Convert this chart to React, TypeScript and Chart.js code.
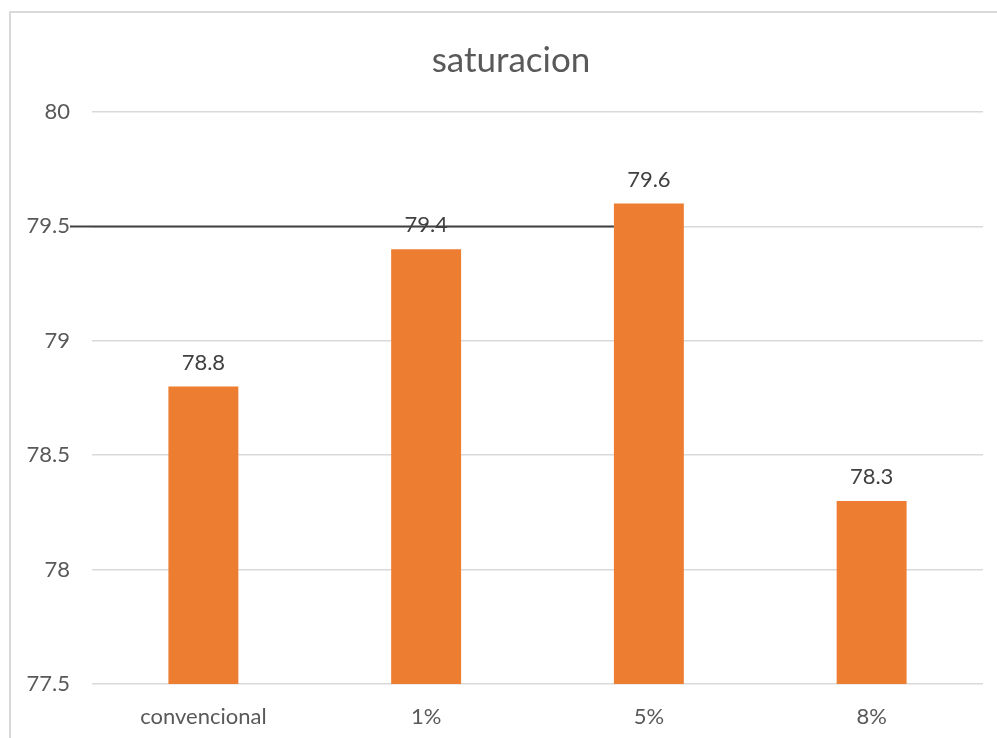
import React, { useEffect, useRef } from "react";
import { Chart, registerables } from "chart.js";

Chart.register(...registerables);

const categories = ["convencional", "1%", "5%", "8%"];
const saturacion = [78.8, 79.4, 79.6, 78.3];
const yMin = 77.5;
const yMax = 80;
const yStep = 0.5;
const referenceLevel = 79.5;
const referenceEndIndex = 2; // horizontal marker stops at the left edge of this bar
const chartTitle = "saturacion";

const FONT = "Lato, 'Liberation Sans', sans-serif";

// outer frame of the chart object (it runs past the right and bottom page edges)
const FRAME_LEFT = 9;
const FRAME_TOP = 11;
const FRAME_WIDTH = 1004;
const FRAME_HEIGHT = 800;

const valueLabels = {
  id: "valueLabels",
  afterDatasetsDraw(chart: any) {
    const ctx = chart.ctx;
    const meta = chart.getDatasetMeta(0);
    ctx.save();
    ctx.font = `22px ${FONT}`;
    ctx.fillStyle = "#404040";
    ctx.textAlign = "center";
    ctx.textBaseline = "middle";
    meta.data.forEach((bar: any, i: number) => {
      ctx.fillText(String(saturacion[i]), bar.x, bar.y - 24);
    });
    ctx.restore();
  },
};

// title centred on the whole frame rather than on the plot box
const frameTitle = {
  id: "frameTitle",
  afterDraw(chart: any) {
    const ctx = chart.ctx;
    const block = chart.titleBlock;
    const cy = block.top + block.height / 2 - 15;
    ctx.save();
    ctx.font = `35px ${FONT}`;
    ctx.fillStyle = "#595959";
    ctx.textAlign = "center";
    ctx.textBaseline = "middle";
    ctx.fillText(chartTitle, FRAME_LEFT + FRAME_WIDTH / 2, cy);
    ctx.restore();
  },
};

const referenceLine = {
  id: "referenceLine",
  afterDraw(chart: any) {
    const ctx = chart.ctx;
    const y = chart.scales.y.getPixelForValue(referenceLevel);
    const bar: any = chart.getDatasetMeta(0).data[referenceEndIndex];
    const x0 = chart.chartArea.left - 22;
    const x1 = bar.x - bar.width / 2;
    ctx.save();
    ctx.strokeStyle = "#404040";
    ctx.lineWidth = 2;
    ctx.beginPath();
    ctx.moveTo(x0, y);
    ctx.lineTo(x1, y);
    ctx.stroke();
    ctx.restore();
  },
};

export default function App() {
  const canvasRef = useRef<HTMLCanvasElement | null>(null);

  useEffect(() => {
    if (!canvasRef.current) return;
    const chart = new Chart(canvasRef.current, {
      type: "bar",
      data: {
        labels: categories,
        datasets: [
          {
            label: chartTitle,
            data: saturacion,
            backgroundColor: "#ed7d31",
            barPercentage: 0.314,
            categoryPercentage: 1,
          },
        ],
      },
      options: {
        animation: false,
        responsive: false,
        maintainAspectRatio: false,
        layout: { padding: { left: 0, right: 14, top: 39, bottom: 0 } },
        plugins: {
          legend: { display: false },
          tooltip: { enabled: false },
          title: {
            display: true,
            text: chartTitle,
            color: "rgba(0,0,0,0)",
            font: { family: FONT, size: 35, weight: "normal" },
            padding: { top: 0, bottom: 31 },
          },
        },
        scales: {
          x: {
            afterFit(scale: any) {
              scale.height = 54;
            },
            grid: { display: false, drawTicks: false },
            border: { display: false },
            ticks: {
              color: "#595959",
              font: { family: FONT, size: 22 },
              padding: 20,
            },
          },
          y: {
            min: yMin,
            max: yMax,
            afterFit(scale: any) {
              scale.width = 92;
            },
            grid: { color: "#d9d9d9", lineWidth: 1.5, drawTicks: false },
            border: { display: false },
            ticks: {
              stepSize: yStep,
              color: "#595959",
              font: { family: FONT, size: 22 },
              padding: 22,
              callback: (v: any) => String(Number(v)),
            },
          },
        },
      },
      plugins: [valueLabels, referenceLine, frameTitle],
    });
    return () => chart.destroy();
  }, []);

  return (
    <div
      style={{
        position: "fixed",
        left: 0,
        top: 0,
        width: 997,
        height: 738,
        overflow: "hidden",
        background: "#ffffff",
      }}
    >
      <div
        style={{
          position: "absolute",
          left: FRAME_LEFT,
          top: FRAME_TOP,
          width: FRAME_WIDTH,
          height: FRAME_HEIGHT,
          border: "2px solid #d9d9d9",
          boxSizing: "border-box",
        }}
      />
      <canvas
        ref={canvasRef}
        width={997}
        height={738}
        style={{ position: "absolute", left: 0, top: 0 }}
      />
    </div>
  );
}
